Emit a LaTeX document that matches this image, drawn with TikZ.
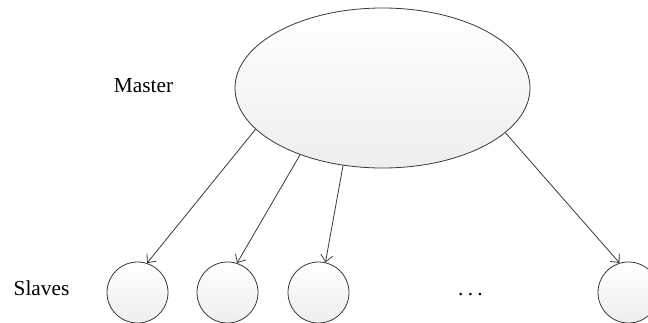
\documentclass[tikz,border=0pt]{standalone}
\usepackage{fontspec}
\setmainfont{Liberation Serif}
\usetikzlibrary{shapes.geometric,arrows.meta}
\definecolor{edgegray}{RGB}{56,56,56}
\definecolor{shadegray}{RGB}{236,238,240}
\begin{document}
\begin{tikzpicture}[x=0.75pt,y=-0.75pt,
  bubble/.style={draw=edgegray,line width=0.6pt,top color=white,bottom color=shadegray,inner sep=0pt},
  slave/.style={bubble,circle,minimum size=45.75pt},
  label/.style={font=\fontsize{16}{19}\selectfont,anchor=base,inner sep=0pt},
  link/.style={draw=edgegray,line width=0.6pt,-{Straight Barb[length=5pt,width=9pt]}}]
  \useasboundingbox (0,0) rectangle (648,322);
  % master process
  \node[bubble,ellipse,minimum width=221.25pt,minimum height=120pt] (master) at (382.5,88) {};
  \node[label] (mlabel) at (143.5,92) {Master};
  % slave processes
  \node[slave] (s1) at (137.5,292.5) {};
  \node[slave] (s2) at (227.5,292.5) {};
  \node[slave] (s3) at (318.5,292.5) {};
  \node[slave] (s4) at (628.5,292.5) {};
  \node[label] (slabel) at (41.5,295) {Slaves};
  \node[label] (dots) at (470.5,295) {.\kern0.2em.\kern0.2em.};
  % work distribution
  \draw[link] (master.198.9) -- (s1.72);
  \draw[link] (master.219.3) -- (s2.72);
  \draw[link] (master.243.1) -- (s3.77.6);
  \draw[link] (master.340) -- (s4.107);
\end{tikzpicture}
\end{document}
